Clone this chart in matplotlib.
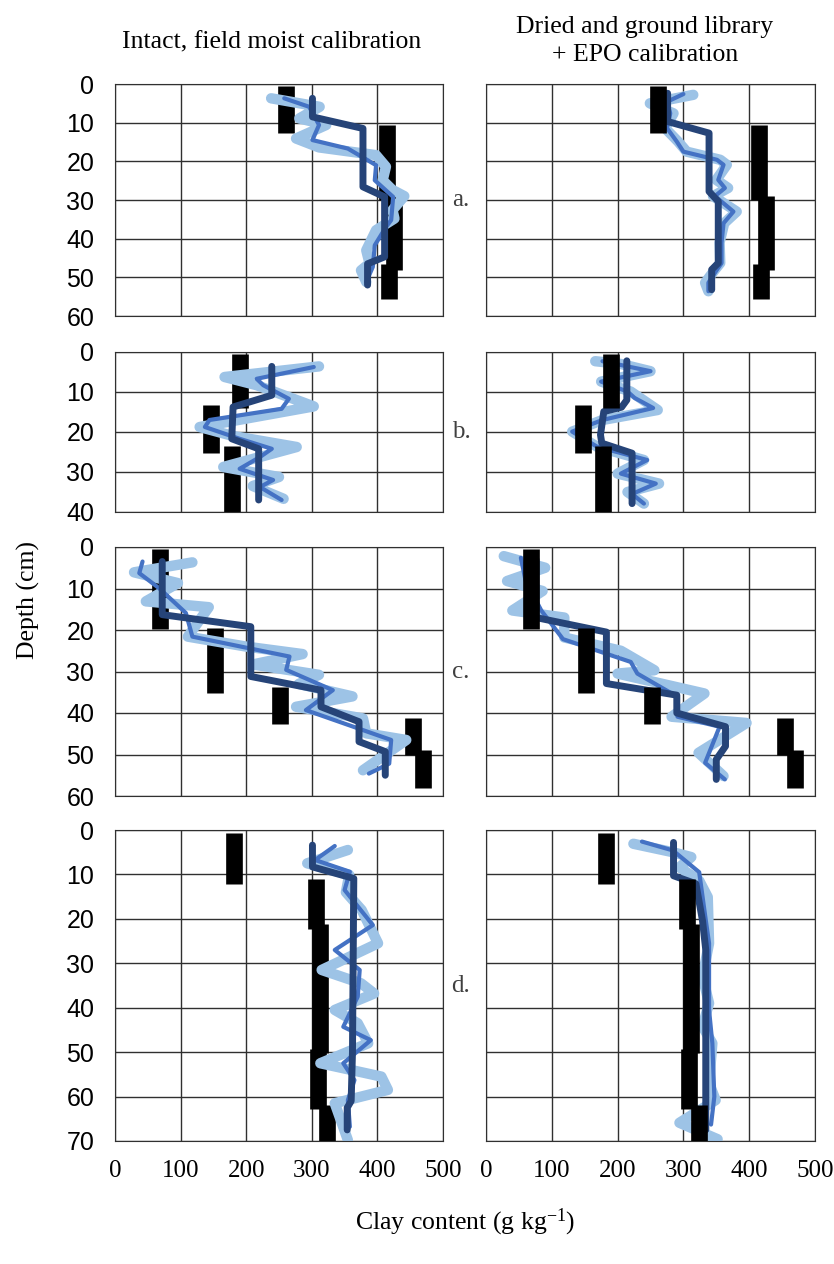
import numpy as np
import matplotlib.pyplot as plt

plt.rcParams['mathtext.fontset'] = 'custom'
plt.rcParams['mathtext.rm'] = 'Liberation Serif'

# measured clay (black bars): clay value, top and bottom depth of each horizon
a_bar_clay = [261, 415, 425, 418]
a_bar_top = [0.5, 10.7, 29, 46.5]
a_bar_bot = [12.6, 30, 48.2, 55.6]
b_bar_clay = [190, 147, 178]
b_bar_top = [0.6, 13.3, 23.5]
b_bar_bot = [14, 25.2, 40]
c_bar_clay = [68, 152, 252, 455, 470]
c_bar_top = [0.6, 19.5, 33.7, 41.3, 49]
c_bar_bot = [19.8, 35.3, 42.7, 50.2, 58.1]
d_bar_clay = [182, 306, 312, 309, 323]
d_bar_top = [0.75, 11, 21.2, 49.2, 61.8]
d_bar_bot = [12.2, 22.3, 50.2, 62.9, 70.6]

# predicted profiles, left column (intact, field moist)
a_l_light_clay = [238, 312, 281, 322, 276, 311, 398, 413, 408, 423, 441, 423, 426, 398, 383, 388, 375, 383]
a_l_light_depth = [3.7, 5.9, 8.9, 10.6, 14.1, 16.4, 18.4, 21.4, 24.9, 27.4, 29, 32.6, 34.8, 37.8, 43, 46.4, 48.2, 51.2]
a_l_med_clay = [258, 296, 311, 301, 355, 398, 396, 424, 421, 413, 396, 393, 383]
a_l_med_depth = [3.7, 5.9, 10.6, 14.5, 16.7, 21, 24.9, 29.2, 35.2, 37, 41.7, 47.3, 51.2]
a_l_navy_clay = [301, 301, 378, 378, 411, 411, 385, 385]
a_l_navy_depth = [3.7, 8.5, 11.5, 26.6, 29.2, 44.7, 46.5, 52]

b_l_light_clay = [311, 167, 216, 303, 129, 180, 277, 165, 250, 210, 257]
b_l_light_depth = [3.6, 6.25, 8.3, 13.6, 18.75, 21, 23.75, 28.75, 31.25, 33.5, 36.7]
b_l_med_clay = [303, 216, 226, 265, 254, 144, 137, 190, 239, 221, 190, 241, 221, 254]
b_l_med_depth = [3.75, 6.7, 8.3, 11.7, 14.2, 17, 18.75, 21.7, 24.2, 26.25, 29.2, 32, 33.75, 37]
b_l_navy_clay = [239, 239, 180, 178, 219, 219]
b_l_navy_depth = [3.6, 10.8, 13.75, 21.7, 24.2, 37]

c_l_light_clay = [118, 29, 96, 47, 143, 111, 200, 286, 210, 311, 280, 362, 276, 378, 383, 444, 378]
c_l_light_depth = [3.7, 6.1, 8.7, 13.1, 14.5, 21.6, 24, 25.8, 28.3, 30.8, 33, 36, 38.5, 41.3, 44.9, 46.5, 53.8]
c_l_med_clay = [42, 37, 67, 108, 118, 266, 261, 332, 291, 421, 418, 387]
c_l_med_depth = [3.5, 6.3, 9.9, 15.9, 21.6, 26.4, 29.6, 34.5, 39.3, 46.5, 52.2, 54.6]
c_l_navy_clay = [72, 72, 207, 207, 314, 314, 372, 372, 412, 412]
c_l_navy_depth = [3.5, 16.3, 19.2, 31.2, 34.5, 38.5, 42.1, 46.9, 49.3, 55]

d_l_light_clay = [355, 293, 357, 352, 376, 401, 315, 375, 395, 335, 370, 386, 313, 406, 416, 335, 355]
d_l_light_depth = [4.5, 7.5, 10.1, 14, 18, 25.5, 31.5, 34.5, 36.8, 40.5, 43.5, 48, 52.5, 55.5, 58.5, 61.5, 69.8]
d_l_med_clay = [335, 305, 358, 350, 393, 335, 373, 370, 348, 390, 348, 365, 355, 358]
d_l_med_depth = [3.6, 6.75, 9.4, 13.5, 21.4, 27, 31.5, 37.5, 44.3, 47.3, 52.5, 56.3, 60.8, 66.8]
d_l_navy_clay = [301, 301, 364, 362, 360, 354, 354]
d_l_navy_depth = [3.4, 8.3, 10.9, 50, 61, 62.5, 67.5]

# predicted profiles, right column (dried and ground library + EPO)
a_r_light_clay = [315, 249, 285, 272, 292, 305, 356, 366, 350, 368, 345, 381, 362, 355, 356, 348, 333, 338]
a_r_light_depth = [2.8, 5, 7.6, 11.4, 14.9, 17.5, 19.6, 20.9, 24.8, 26.9, 29, 33, 36, 41, 46.3, 48, 51.4, 53.6]
a_r_med_clay = [300, 275, 280, 275, 290, 300, 351, 361, 353, 363, 348, 376, 361, 358, 358, 351, 338, 338]
a_r_med_depth = [2.6, 4.6, 7.6, 11.4, 14.9, 17.5, 19.6, 20.9, 24.8, 26.9, 29, 33, 36, 41, 46.3, 48, 51.4, 53.6]
a_r_navy_clay = [276, 276, 339, 339, 353, 353, 343, 343]
a_r_navy_depth = [2.4, 9.7, 12.7, 27.8, 30.4, 46.3, 48, 53.2]

b_r_light_clay = [166, 205, 250, 175, 220, 261, 177, 131, 169, 240, 200, 263, 215, 240]
b_r_light_depth = [2.3, 3, 4.8, 7.4, 9.9, 14.5, 17, 19.9, 23.7, 27, 30.4, 32.9, 35, 37.9]
b_r_med_clay = [177, 250, 175, 215, 226, 254, 177, 131, 169, 245, 205, 258, 222, 240]
b_r_med_depth = [2.3, 4.8, 7.4, 9.9, 11.5, 14, 17, 19.9, 23.7, 27, 30.4, 32.9, 35.5, 37.9]
b_r_navy_clay = [214, 214, 206, 179, 174, 176, 222, 222]
b_r_navy_depth = [2.2, 12, 13.8, 14.9, 20.7, 22.8, 25.3, 37.9]

c_r_light_clay = [27, 90, 32, 86, 40, 119, 119, 205, 256, 200, 332, 282, 396, 323, 361]
c_r_light_depth = [2.2, 5, 8.2, 10.6, 15.3, 17, 21.8, 25, 29.7, 30.5, 35.3, 40.9, 42.4, 49.6, 55.2]
c_r_med_clay = [53, 60, 84, 117, 220, 230, 291, 291, 355, 333, 363]
c_r_med_depth = [2.6, 8, 15.3, 22.2, 27.7, 30.5, 36.1, 40.9, 43.3, 52, 56]
c_r_navy_clay = [76, 76, 183, 183, 290, 290, 364, 364, 350, 350]
c_r_navy_depth = [3, 17, 20.5, 32.9, 35.7, 40, 43.3, 48, 51.2, 56]

d_r_light_clay = [224, 284, 312, 294, 324, 337, 339, 329, 339, 329, 344, 339, 349, 294, 352]
d_r_light_depth = [3.1, 5, 6.1, 8.4, 11.4, 15.1, 25.5, 33, 39, 44.2, 48, 57, 60.8, 65.9, 69.6]
d_r_med_clay = [237, 284, 324, 334, 339, 339, 344, 347, 342]
d_r_med_depth = [2.6, 4.6, 9.5, 20.3, 25.5, 40.5, 48, 60, 66.3]
d_r_navy_clay = [285, 285, 319, 329, 334, 334]
d_r_navy_depth = [2.8, 10.3, 12.1, 20.4, 27, 67.5]

depth_max = [60, 40, 60, 70]
panel_labels = ['a.', 'b.', 'c.', 'd.']
x_ticks = [0, 100, 200, 300, 400, 500]

bars = [(a_bar_clay, a_bar_top, a_bar_bot), (b_bar_clay, b_bar_top, b_bar_bot),
        (c_bar_clay, c_bar_top, c_bar_bot), (d_bar_clay, d_bar_top, d_bar_bot)]
left = [
    [(a_l_light_clay, a_l_light_depth), (a_l_med_clay, a_l_med_depth), (a_l_navy_clay, a_l_navy_depth)],
    [(b_l_light_clay, b_l_light_depth), (b_l_med_clay, b_l_med_depth), (b_l_navy_clay, b_l_navy_depth)],
    [(c_l_light_clay, c_l_light_depth), (c_l_med_clay, c_l_med_depth), (c_l_navy_clay, c_l_navy_depth)],
    [(d_l_light_clay, d_l_light_depth), (d_l_med_clay, d_l_med_depth), (d_l_navy_clay, d_l_navy_depth)],
]
right = [
    [(a_r_light_clay, a_r_light_depth), (a_r_med_clay, a_r_med_depth), (a_r_navy_clay, a_r_navy_depth)],
    [(b_r_light_clay, b_r_light_depth), (b_r_med_clay, b_r_med_depth), (b_r_navy_clay, b_r_navy_depth)],
    [(c_r_light_clay, c_r_light_depth), (c_r_med_clay, c_r_med_depth), (c_r_navy_clay, c_r_navy_depth)],
    [(d_r_light_clay, d_r_light_depth), (d_r_med_clay, d_r_med_depth), (d_r_navy_clay, d_r_navy_depth)],
]

line_colors = ['#9DC3E6', '#4472C4', '#264478']
line_widths = [7.5, 3.0, 5.0]

fig = plt.figure(figsize=(8.34, 12.64), dpi=100)
serif = 'Liberation Serif'
sans = 'Liberation Sans'

# axes positions in figure pixels (top, bottom)
rows_px = [(84, 316), (352, 512), (547, 796), (830, 1141)]
cols_px = [(115, 443), (486, 815)]
W, H = 834, 1264

for r in range(4):
    for c in range(2):
        x0, x1 = cols_px[c]
        t, b = rows_px[r]
        ax = fig.add_axes([x0 / W, 1 - b / H, (x1 - x0) / W, (b - t) / H])
        series = left[r] if c == 0 else right[r]
        bz = 1 if c == 0 else 5
        clay, top, bot = bars[r]
        for k in range(len(clay)):
            ax.plot([clay[k], clay[k]], [top[k], bot[k]], color='black', lw=12,
                    solid_capstyle='butt', zorder=bz)
        for (xs, ys), col, lw in zip(series, line_colors, line_widths):
            ax.plot(xs, ys, color=col, lw=lw, solid_capstyle='round',
                    solid_joinstyle='round', zorder=2)
        ax.set_xlim(0, 500)
        ax.set_ylim(depth_max[r], 0)
        ax.set_xticks(x_ticks)
        ax.set_yticks(np.arange(0, depth_max[r] + 1, 10))
        ax.grid(True, color='#303030', lw=1)
        ax.set_axisbelow(True)
        ax.tick_params(length=0)
        for s in ax.spines.values():
            s.set_color('#303030')
        if c == 0:
            ax.tick_params(axis='y', pad=15, labelsize=18)
            for lab in ax.get_yticklabels():
                lab.set_family(sans)
        else:
            ax.set_yticklabels([])
        if r == 3:
            ax.tick_params(axis='x', pad=14, labelsize=18)
            for lab in ax.get_xticklabels():
                lab.set_family(serif)
        else:
            ax.set_xticklabels([])

for r in range(4):
    t, b = rows_px[r]
    fig.text(461 / W, 1 - ((t + b) / 2) / H, panel_labels[r], family=serif,
             fontsize=18, color='#404040', ha='center', va='center')

fig.text(272 / W, 1 - 42 / H, 'Intact, field moist calibration', family=serif,
         fontsize=18.5, ha='center', va='center')
fig.text(645 / W, 1 - 41 / H, 'Dried and ground library\n+ EPO calibration', family=serif,
         fontsize=18.5, ha='center', va='center', linespacing=1.3)
fig.text(28 / W, 1 - 600 / H, 'Depth (cm)', family=serif, fontsize=18.5,
         rotation=90, ha='center', va='center')
fig.text(465 / W, 1 - 1222 / H, r'Clay content (g kg$\mathregular{^{-1}}$)', family=serif,
         fontsize=18.5, ha='center', va='center')

plt.savefig('out.png', dpi=100)
